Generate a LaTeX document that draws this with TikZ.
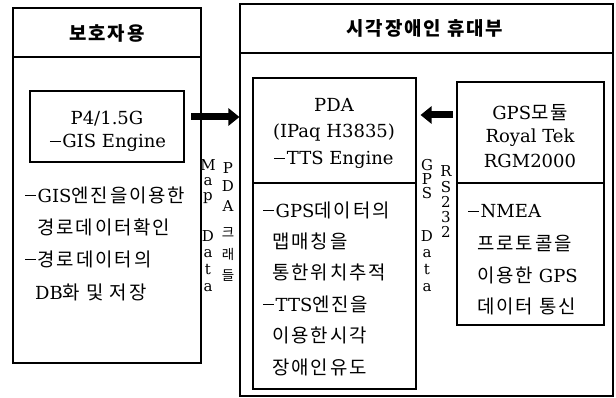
\documentclass[tikz,border=0pt]{standalone}
\usepackage{fontspec}
\setmainfont{DejaVu Serif}
\newfontfamily\krf{Noto Sans CJK KR}[Scale=1.05, LetterSpace=10]
\newfontfamily\krv{Noto Sans CJK KR}
\newcommand\K[1]{{\krf #1}}
\newcommand\dsh{\rule[6pt]{11pt}{0.9pt}\hspace{1.5pt}}
\usetikzlibrary{arrows.meta}
\begin{document}
\begin{tikzpicture}[x=1pt,y=-1pt,
 box/.style={draw, line width=1.1pt, inner sep=0pt},
 ln/.style={inner sep=0pt, anchor=west, font=\fontsize{18}{22}\selectfont},
 ctr/.style={inner sep=0pt, anchor=center, font=\fontsize{18}{22}\selectfont},
 ttl/.style={inner sep=0pt, font=\fontsize{18}{22}\selectfont\krf\bfseries},
 vt/.style={inner sep=0pt, anchor=base, font=\fontsize{15}{18}\selectfont},
 vk/.style={inner sep=0pt, anchor=center, font=\fontsize{13.5}{16}\selectfont\krv},
 fat/.style={line width=7pt, -{Triangle[length=11pt,width=17pt]}}
]
\useasboundingbox (0,0) rectangle (616,398);
% boxes
\node[box, minimum width=188pt, minimum height=355pt] (L) at (107,185.5) {};
\node[box, minimum width=373pt, minimum height=392pt] (R) at (426.5,200) {};
\node[box, minimum width=154pt, minimum height=71pt] (P4) at (107,126.5) {};
\node[box, minimum width=163pt, minimum height=311pt] (PDA) at (334.5,233.5) {};
\node[box, minimum width=147pt, minimum height=243pt] (GPS) at (530.5,203.5) {};
\draw[line width=1.1pt] (L.west |- 0,57) -- (L.east |- 0,57);
\draw[line width=1.1pt] (R.west |- 0,53) -- (R.east |- 0,53);
\draw[line width=1.1pt] (PDA.west |- 0,183) -- (PDA.east |- 0,183);
\draw[line width=1.1pt] (GPS.west |- 0,183) -- (GPS.east |- 0,183);
% titles
\node[ttl] (tL) at (107,33) {보호자용};
\node[ttl] (tR) at (425,28) {시각장애인 휴대부};
% P4 box
\node[ctr] (p4a) at (107,119) {P4/1.5G};
\node[ctr] (p4b) at (108,143) {\dsh GIS Engine};
% left body
\node[ln] (l1) at (25,195) {\dsh GIS\K{엔진을이용한}};
\node[ln] (l2) at (37,227) {\K{경로데이터확인}};
\node[ln] (l3) at (25,259) {\dsh\K{경로데이터의}};
\node[ln] (l4) at (35,292) {DB\K{화 및 저장}};
% PDA top
\node[ctr] (pa) at (334,105) {PDA};
\node[ctr] (pb) at (334,133) {(IPaq H3835)};
\node[ctr] (pc) at (334,160) {\dsh TTS Engine};
% PDA lower
\node[ln] (q1) at (263,210) {\dsh GPS\K{데이터의}};
\node[ln] (q2) at (272,241) {\K{맵매칭을}};
\node[ln] (q3) at (272,272) {\K{통한위치추적}};
\node[ln] (q4) at (263,304) {\dsh TTS\K{엔진을}};
\node[ln] (q5) at (272,335) {\K{이용한시각}};
\node[ln] (q6) at (272,367) {\K{장애인유도}};
% GPS top
\node[ctr] (ga) at (530,113) {GPS\K{모듈}};
\node[ctr] (gb) at (530,138) {Royal Tek};
\node[ctr] (gc) at (530,161) {RGM2000};
% GPS lower
\node[ln] (g1) at (468,211) {\dsh NMEA};
\node[ln] (g2) at (477,243) {\K{프로토콜을}};
\node[ln] (g3) at (477,275) {\K{이용한} GPS};
\node[ln] (g4) at (477,306) {\K{데이터 통신}};
% vertical labels
\foreach \c/\y [count=\i] in {M/171,a/186,p/201,D/242,a/258,t/274,a/291}
  \node[vt] (md\i) at (208,\y) {\c};
\foreach \c/\y [count=\i] in {P/174,D/192,A/212}
  \node[vt] (pd\i) at (228,\y) {\c};
\foreach \c/\y [count=\i] in {크/233,래/254,들/276}
  \node[vk] (pk\i) at (228,\y) {\c};
\foreach \c/\y [count=\i] in {G/171,P/185,S/199,D/242,a/258,t/274,a/291}
  \node[vt] (gd\i) at (427,\y) {\c};
\foreach \c/\y [count=\i] in {R/177,S/193,2/208,3/223,2/238}
  \node[vt] (rs\i) at (446,\y) {\c};
% arrows
\coordinate (a1s) at (191,117);
\draw[fat] (a1s) -- (R.west |- a1s);
\coordinate (a2s) at (453,115);
\coordinate (a2e) at ([xshift=4pt]PDA.east |- a2s);
\draw[fat] (a2s) -- (a2e);
\end{tikzpicture}
\end{document}
